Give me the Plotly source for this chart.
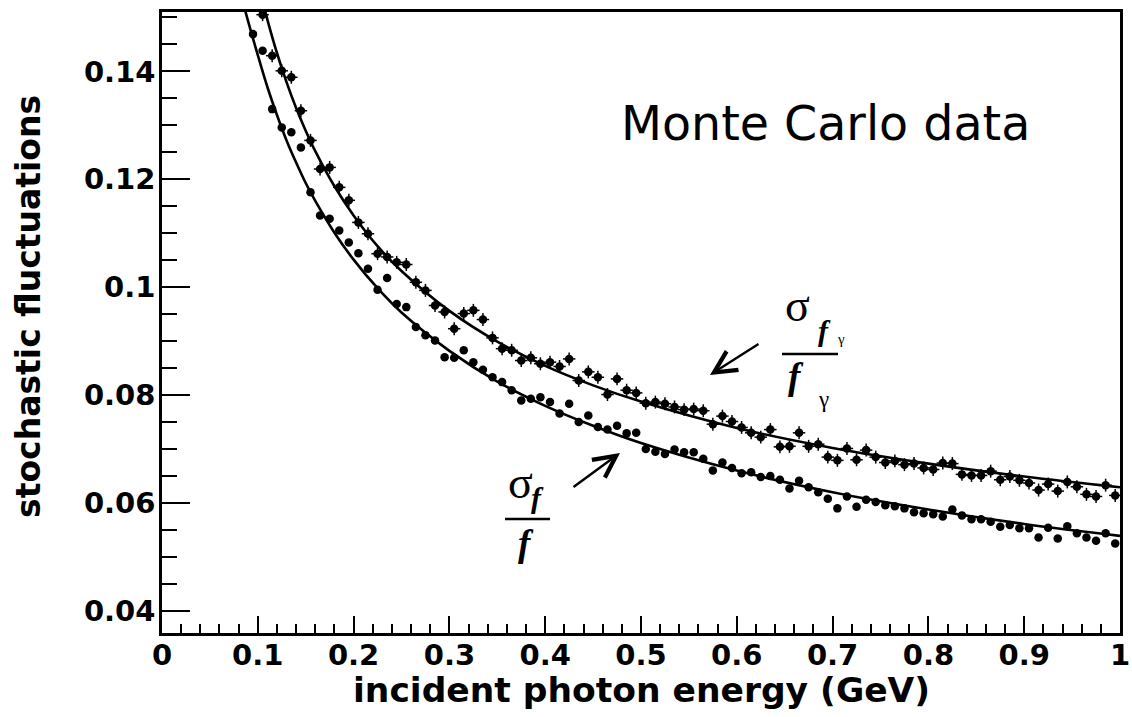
import plotly.graph_objects as go

# ---------------- data ----------------
energy_bins = [0.095, 0.105, 0.115, 0.125, 0.135, 0.145, 0.155, 0.165, 0.175, 0.185,
               0.195, 0.205, 0.215, 0.225, 0.235, 0.245, 0.255, 0.265, 0.275, 0.285,
               0.295, 0.305, 0.315, 0.325, 0.335, 0.345, 0.355, 0.365, 0.375, 0.385,
               0.395, 0.405, 0.415, 0.425, 0.435, 0.445, 0.455, 0.465, 0.475, 0.485,
               0.495, 0.505, 0.515, 0.525, 0.535, 0.545, 0.555, 0.565, 0.575, 0.585,
               0.595, 0.605, 0.615, 0.625, 0.635, 0.645, 0.655, 0.665, 0.675, 0.685,
               0.695, 0.705, 0.715, 0.725, 0.735, 0.745, 0.755, 0.765, 0.775, 0.785,
               0.795, 0.805, 0.815, 0.825, 0.835, 0.845, 0.855, 0.865, 0.875, 0.885,
               0.895, 0.905, 0.915, 0.925, 0.935, 0.945, 0.955, 0.965, 0.975, 0.985,
               0.995]

# sigma_f / f  (lower series, starts at 0.095)
sigma_f = [0.1469, 0.1438, 0.1330, 0.1296, 0.1287, 0.1259, 0.1176, 0.1133, 0.1127, 0.1105,
           0.1083, 0.1063, 0.1034, 0.0995, 0.1017, 0.0969, 0.0963, 0.0926, 0.0911, 0.0901,
           0.0870, 0.0869, 0.0883, 0.0861, 0.0847, 0.0833, 0.0824, 0.0809, 0.0790, 0.0793,
           0.0796, 0.0787, 0.0766, 0.0784, 0.0750, 0.0762, 0.0741, 0.0736, 0.0743, 0.0729,
           0.0730, 0.0700, 0.0695, 0.0691, 0.0699, 0.0694, 0.0694, 0.0682, 0.0660, 0.0675,
           0.0665, 0.0655, 0.0657, 0.0648, 0.0650, 0.0643, 0.0627, 0.0641, 0.0629, 0.0620,
           0.0608, 0.0590, 0.0612, 0.0593, 0.0606, 0.0602, 0.0596, 0.0594, 0.0590, 0.0583,
           0.0581, 0.0579, 0.0575, 0.0588, 0.0577, 0.0570, 0.0570, 0.0565, 0.0556, 0.0559,
           0.0553, 0.0553, 0.0536, 0.0554, 0.0534, 0.0557, 0.0544, 0.0536, 0.0530, 0.0544,
           0.0525]

# sigma_fgamma / f_gamma  (upper series, starts at 0.105)
sigma_fg = [0.1505, 0.1429, 0.1401, 0.1389, 0.1327, 0.1272, 0.1219, 0.1222, 0.1185,
            0.1161, 0.1120, 0.1099, 0.1062, 0.1056, 0.1046, 0.1042, 0.1009, 0.0994, 0.0966,
            0.0954, 0.0923, 0.0951, 0.0957, 0.0940, 0.0906, 0.0886, 0.0883, 0.0864, 0.0869,
            0.0858, 0.0861, 0.0853, 0.0867, 0.0827, 0.0843, 0.0833, 0.0801, 0.0830, 0.0809,
            0.0804, 0.0785, 0.0787, 0.0784, 0.0778, 0.0773, 0.0774, 0.0771, 0.0746, 0.0761,
            0.0751, 0.0740, 0.0730, 0.0722, 0.0736, 0.0704, 0.0705, 0.0730, 0.0705, 0.0709,
            0.0685, 0.0679, 0.0701, 0.0680, 0.0698, 0.0685, 0.0675, 0.0678, 0.0671, 0.0673,
            0.0665, 0.0662, 0.0674, 0.0673, 0.0653, 0.0651, 0.0651, 0.0659, 0.0643, 0.0649,
            0.0642, 0.0637, 0.0624, 0.0635, 0.0622, 0.0639, 0.0630, 0.0616, 0.0612, 0.0633,
            0.0614]

# fitted curves, read at sample energies
fit_fg_e = [0.105, 0.11, 0.12, 0.13, 0.14, 0.15, 0.16, 0.18, 0.2, 0.225, 0.25, 0.3,
            0.35, 0.4, 0.45, 0.5, 0.6, 0.7, 0.8, 0.9, 1.0]
fit_fg_v = [0.1531, 0.1496, 0.1434, 0.1380, 0.1332, 0.1290, 0.1252, 0.1187, 0.1133,
            0.1076, 0.1030, 0.0956, 0.0899, 0.0854, 0.0818, 0.0788, 0.0739, 0.0702,
            0.0673, 0.0649, 0.0629]
fit_f_e = [0.085, 0.09, 0.1, 0.11, 0.12, 0.13, 0.14, 0.15, 0.16, 0.18, 0.2, 0.225,
           0.25, 0.3, 0.35, 0.4, 0.45, 0.5, 0.6, 0.7, 0.8, 0.9, 1.0]
fit_f_v = [0.1525, 0.1492, 0.1430, 0.1371, 0.1319, 0.1272, 0.1231, 0.1193, 0.1160,
           0.1101, 0.1051, 0.0998, 0.0953, 0.0882, 0.0825, 0.0780, 0.0743, 0.0711,
           0.0660, 0.0620, 0.0588, 0.0561, 0.0539]

x_title = "incident photon energy (GeV)"
y_title = "stochastic fluctuations"
note_text = "Monte Carlo data"

# ---------------- figure ----------------
fig = go.Figure()

fig.add_trace(go.Scatter(x=fit_f_e, y=fit_f_v, mode="lines",
                         line=dict(color="black", width=2.6, shape="spline"),
                         showlegend=False, hoverinfo="skip"))
fig.add_trace(go.Scatter(x=fit_fg_e, y=fit_fg_v, mode="lines",
                         line=dict(color="black", width=2.6, shape="spline"),
                         showlegend=False, hoverinfo="skip"))

fig.add_trace(go.Scatter(x=energy_bins, y=sigma_f, mode="markers",
                         marker=dict(symbol="circle", size=8.5, color="black"),
                         showlegend=False))
fig.add_trace(go.Scatter(x=energy_bins[1:], y=sigma_fg, mode="markers",
                         marker=dict(symbol="circle", size=8.5, color="black"),
                         error_y=dict(type="constant", value=0.0012, thickness=1.5,
                                      width=0, color="black"),
                         error_x=dict(type="constant", value=0.0065, thickness=1.5,
                                      width=0, color="black"),
                         showlegend=False))

L, R, T, B = 162, 12, 12, 84
W, H = 1132, 717

tickfont = dict(family="DejaVu Sans", size=29, color="black", weight="bold")

fig.update_layout(
    width=W, height=H, autosize=False,
    margin=dict(l=L, r=R, t=T, b=B, pad=0, autoexpand=False),
    paper_bgcolor="white", plot_bgcolor="white",
    showlegend=False,
    xaxis=dict(range=[0, 1], tick0=0, dtick=0.1, ticks="inside", ticklen=17,
               tickwidth=2, tickcolor="black", showline=True, linewidth=2.5,
               linecolor="black", mirror=True, showgrid=False, zeroline=False,
               automargin=False, tickfont=tickfont, ticklabelstandoff=-6,
               minor=dict(dtick=0.02, ticks="inside", ticklen=9, tickwidth=2,
                          tickcolor="black", showgrid=False)),
    yaxis=dict(range=[0.0359, 0.151], tick0=0.04, dtick=0.02, ticks="inside",
               ticklen=28, tickwidth=2, tickcolor="black", showline=True,
               linewidth=2.5, linecolor="black", mirror=True, showgrid=False,
               zeroline=False, automargin=False, tickfont=tickfont,
               ticklabelstandoff=-2,
               minor=dict(dtick=0.005, tick0=0.04, ticks="inside", ticklen=15,
                          tickwidth=2, tickcolor="black", showgrid=False)),
)

pw, ph = W - L - R, H - T - B


def px2paper(px, py):
    return (px - L) / pw, (H - B - py) / ph


# axis titles
xx, yy = px2paper(641, 690)
fig.add_annotation(text=x_title, x=xx, y=yy, xref="paper", yref="paper",
                   showarrow=False, xanchor="center", yanchor="middle",
                   font=dict(family="DejaVu Sans", size=34.5, color="black", weight="bold"))
xx, yy = px2paper(28, 307)
fig.add_annotation(text=y_title, x=xx, y=yy, xref="paper", yref="paper",
                   showarrow=False, xanchor="center", yanchor="middle", textangle=-90,
                   font=dict(family="DejaVu Sans", size=33, color="black", weight="bold"))
xx, yy = px2paper(825, 123)
fig.add_annotation(text=note_text, x=xx, y=yy, xref="paper", yref="paper",
                   showarrow=False, xanchor="center", yanchor="middle",
                   font=dict(family="DejaVu Sans", size=47.5, color="black"))

serif = "Liberation Serif"


def glyph(text, px, py, size, italic=False, bold=False):
    xx, yy = px2paper(px, py)
    t = text
    if bold:
        t = "<b>" + t + "</b>"
    if italic:
        t = "<i>" + t + "</i>"
    fig.add_annotation(text=t, x=xx, y=yy, xref="paper", yref="paper",
                       showarrow=False, xanchor="center", yanchor="middle",
                       font=dict(family=serif, size=size, color="black"))


def hline(px0, px1, py):
    x0, y0 = px2paper(px0, py)
    x1, _ = px2paper(px1, py)
    fig.add_shape(type="line", x0=x0, x1=x1, y0=y0, y1=y0, xref="paper", yref="paper",
                  line=dict(color="black", width=2.5))


def arrow(tail, head):
    hx, hy = px2paper(*head)
    fig.add_annotation(text="", x=hx, y=hy, xref="paper", yref="paper",
                       ax=tail[0] - head[0], ay=tail[1] - head[1],
                       showarrow=True, arrowhead=5, arrowsize=1.8, arrowwidth=2.4,
                       arrowcolor="black")


# lower label: sigma_f / f
glyph("σ", 520, 482, 46)
glyph("f", 537, 497, 30, italic=True, bold=True)
hline(505, 550, 519)
glyph("f", 526, 543, 37, italic=True, bold=True)
arrow((572, 488), (620, 453))

# upper label: sigma_{f_gamma} / f_gamma
glyph("σ", 797, 305, 46)
glyph("f", 824, 330, 30, italic=True, bold=True)
glyph("γ", 841, 339, 15)
hline(782, 838, 354)
glyph("f", 796, 377, 37, italic=True, bold=True)
glyph("γ", 823, 399, 23)
arrow((760, 343), (710, 375))

fig.write_html("out.html")
